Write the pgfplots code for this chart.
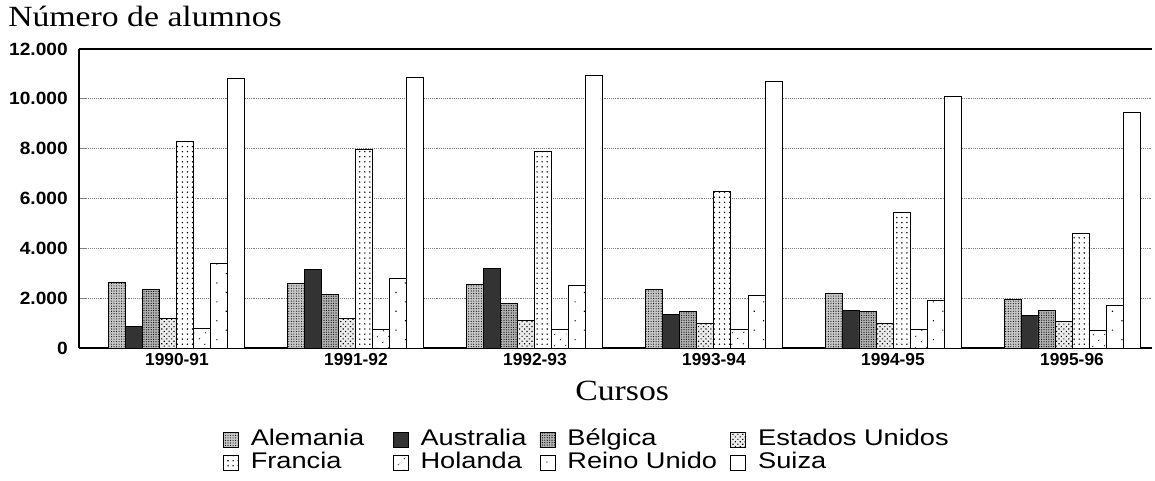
\documentclass[border=0pt]{standalone}
\usepackage{fontspec}
\setmainfont{Liberation Sans}
\newfontfamily\serifstr[FakeStretch=1.15]{Liberation Serif}
\newfontfamily\legfont[FakeStretch=1.2]{Liberation Sans}
\newfontfamily\ytfont[FakeStretch=1.08]{Liberation Sans}
\usepackage{pgfplots}
\pgfplotsset{compat=1.18}
\usetikzlibrary{patterns.meta}
\pgfplotsset{
  /pgfplots/ybar legend/.style={/pgfplots/legend image code/.code={\draw[##1,line width=0.6pt] (0pt,-5.6pt) rectangle (11.25pt,5.6pt);}},
  sAle/.style={draw=black,line width=0.7pt,fill=black!22,postaction={pattern={Dots[distance=1.9pt,radius=0.42pt]}}},
  sAus/.style={draw=black,line width=0.7pt,fill=black!80},
  sBel/.style={draw=black,line width=0.7pt,fill=black!30,postaction={pattern={Dots[distance=1.8pt,radius=0.45pt]}}},
  sUSA/.style={draw=black,line width=0.7pt,fill=black!8,postaction={pattern={Dots[distance=2.6pt,angle=45,radius=0.6pt]}}},
  sFra/.style={draw=black,line width=0.7pt,fill=white,postaction={pattern={Dots[distance=3.8pt,radius=0.6pt]}}},
  sHol/.style={draw=black,line width=0.7pt,fill=white,postaction={pattern={Dots[distance=6.5pt,angle=45,radius=0.55pt]}}},
  sRU/.style={draw=black,line width=0.7pt,fill=white,postaction={pattern={Dots[distance=10pt,angle=45,radius=0.6pt]}}},
  sSui/.style={draw=black,line width=0.7pt,fill=white},
}
\pgfplotstableread{
x Ale Aus Bel USA Fra Hol RU Sui
0 2650 850 2350 1200 8300 800 3400 10800
1 2600 3150 2150 1200 7950 750 2800 10850
2 2550 3200 1800 1100 7900 750 2500 10950
3 2350 1350 1450 1000 6300 750 2100 10700
4 2200 1500 1450 1000 5450 750 1900 10100
5 1950 1300 1500 1050 4600 700 1700 9450
}\datatable
\begin{document}
\begin{tikzpicture}
\useasboundingbox (-59.25pt,-99.75pt) rectangle (807pt,261pt);
\begin{axis}[
  at={(0pt,0pt)}, anchor=south west,
  scale only axis, width=804.75pt, height=224.25pt,
  ybar=0pt, bar width=12.75pt,
  xmin=-0.547, xmax=5.447, ymin=0, ymax=12000,
  enlargelimits=false,
  axis x line*=box, axis y line*=left,
  axis line style={line width=1.1pt},
  xtick={0,1,2,3,4,5},
  xticklabels={1990-91,1991-92,1992-93,1993-94,1994-95,1995-96},
  x tick style={draw=none},
  xtick pos=left, ytick pos=left,
  xticklabel style={font=\fontsize{13}{15}\selectfont\bfseries, inner sep=0pt, yshift=-4pt},
  ytick={0,2000,4000,6000,8000,10000,12000},
  y tick style={line width=0.6pt}, tick align=inside, major tick length=5pt,
  yticklabel style={font=\ytfont\fontsize{13.3}{15}\selectfont\bfseries, inner sep=0pt, xshift=-8.25pt},
  /pgf/number format/.cd, 1000 sep={.}, assume math mode=true, /pgfplots/.cd,
  scaled y ticks=false,
  ymajorgrids, major grid style={densely dotted, black!50, line width=0.5pt},
  xlabel={\serifstr\fontsize{22}{24}\selectfont Cursos},
  xlabel style={at={(axis description cs:0.5,0)}, anchor=base, yshift=-39pt, xshift=5pt, inner sep=0pt},
  legend columns=4,
  legend style={at={(axis description cs:0.1342,-0.2709)}, anchor=north west, draw=none, inner sep=0pt, outer sep=0pt,
    font=\legfont\fontsize{17}{17}\selectfont, row sep=0.75pt,
    nodes={inner sep=0pt, text height=12.5pt, text depth=4pt},
    /tikz/every odd column/.append style={column sep=9pt},
    /tikz/every even column/.append style={column sep=0pt}},
  legend cell align=left,
]
\addplot[sAle] table[x=x,y=Ale]{\datatable};
\addlegendentry{\makebox[106.5pt][l]{Alemania}}
\addplot[sAus] table[x=x,y=Aus]{\datatable};
\addlegendentry{\makebox[89.25pt][l]{Australia}}
\addplot[sBel] table[x=x,y=Bel]{\datatable};
\addlegendentry{\makebox[122.25pt][l]{Bélgica}}
\addplot[sUSA] table[x=x,y=USA]{\datatable};
\addlegendentry{Estados Unidos}
\addplot[sFra] table[x=x,y=Fra]{\datatable};
\addlegendentry{\makebox[106.5pt][l]{Francia}}
\addplot[sHol] table[x=x,y=Hol]{\datatable};
\addlegendentry{\makebox[89.25pt][l]{Holanda}}
\addplot[sRU] table[x=x,y=RU]{\datatable};
\addlegendentry{\makebox[122.25pt][l]{Reino Unido}}
\addplot[sSui] table[x=x,y=Sui]{\datatable};
\addlegendentry{Suiza}
\end{axis}
\node[anchor=base west, inner sep=0pt] at (-53.25pt,240.75pt) {\serifstr\fontsize{22}{24}\selectfont Número de alumnos};
\end{tikzpicture}
\end{document}
